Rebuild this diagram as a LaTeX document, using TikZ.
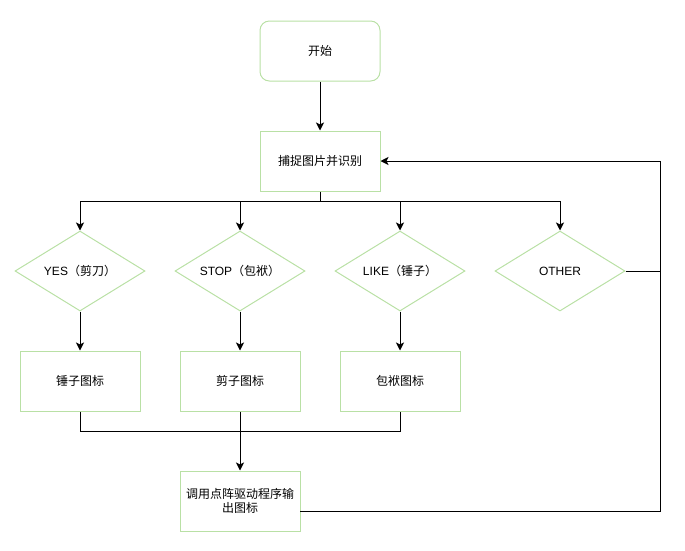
\documentclass[tikz,border=0pt]{standalone}
\usepackage{fontspec}
\setmainfont{Liberation Sans}
\newfontfamily\cjk{Noto Sans CJK SC}
\usetikzlibrary{shapes.geometric,arrows.meta}
\definecolor{bordergreen}{RGB}{185,224,165}
\tikzset{
  box/.style={draw=bordergreen,line width=0.75pt,minimum width=90pt,minimum height=45pt,inner sep=2pt,align=center,font=\fontsize{9pt}{11pt}\selectfont},
  startbox/.style={box,rounded corners=7pt},
  decision/.style={draw=bordergreen,line width=0.75pt,diamond,aspect=1.625,minimum width=97.5pt,minimum height=60pt,inner sep=0pt,font=\fontsize{9pt}{11pt}\selectfont},
  conn/.style={draw=black,line width=0.75pt},
  arr/.style={conn,-{Stealth[length=6pt,width=6pt,inset=1.5pt]}}
}
\begin{document}
\begin{tikzpicture}[x=0.75pt,y=-0.75pt]
\useasboundingbox (0,0) rectangle (685,550);
\node[startbox] (start) at (320,51) {\cjk 开始};
\node[box] (cap) at (320,161) {\cjk 捕捉图片并识别};
\node[decision] (d1) at (80,271) {YES{\cjk（剪刀）}};
\node[decision] (d2) at (240,271) {STOP{\cjk（包袱）}};
\node[decision] (d3) at (400,271) {LIKE{\cjk（锤子）}};
\node[decision] (d4) at (560,271) {OTHER};
\node[box] (i1) at (80,381) {\cjk 锤子图标};
\node[box] (i2) at (240,381) {\cjk 剪子图标};
\node[box] (i3) at (400,381) {\cjk 包袱图标};
\node[box] (fin) at (240,501) {\cjk 调用点阵驱动程序输\\\cjk 出图标};
\coordinate (b) at (320,201);
\coordinate (m) at (240,431);
\coordinate (r) at (660,271);
\coordinate (rt) at (660,161);
\coordinate (fo) at (300,511);
\draw[arr] (start) -- (cap);
\draw[conn] (cap.south) -- (b);
\draw[arr] (b) -| (d1.north);
\draw[arr] (b) -| (d2.north);
\draw[arr] (b) -| (d3.north);
\draw[arr] (b) -| (d4.north);
\draw[arr] (d1.south) -- (i1.north);
\draw[arr] (d2.south) -- (i2.north);
\draw[arr] (d3.south) -- (i3.north);
\draw[conn] (i1.south) -- (i1.south |- m) -- (i3.south |- m) -- (i3.south);
\draw[conn] (i2.south) -- (m);
\draw[arr] (m) -- (fin.north);
\draw[conn] (d4.east) -- (r);
\draw[arr] (fo) -| (rt) -- (cap.east);
\end{tikzpicture}
\end{document}
